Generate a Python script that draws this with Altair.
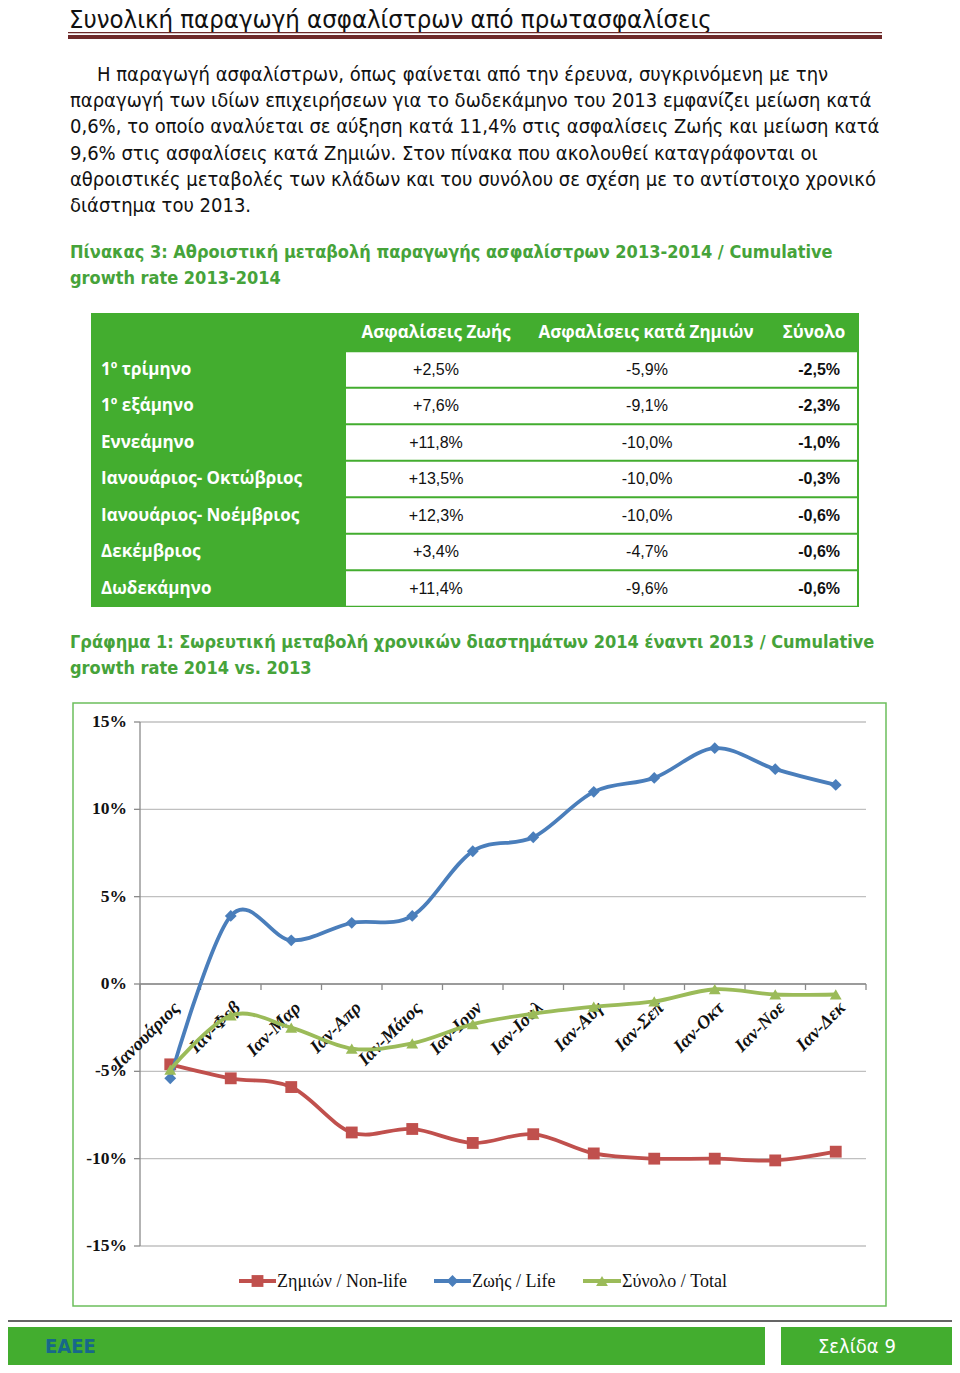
import altair as alt
import pandas as pd

# ---------------- data ----------------
page_title = "Συνολική παραγωγή ασφαλίστρων από πρωτασφαλίσεις"

paragraph_first = "Η παραγωγή ασφαλίστρων, όπως φαίνεται από την έρευνα, συγκρινόμενη με την"
paragraph_rest = [
    "παραγωγή των ιδίων επιχειρήσεων για το δωδεκάμηνο του 2013 εμφανίζει μείωση κατά",
    "0,6%, το οποίο αναλύεται σε αύξηση κατά 11,4% στις ασφαλίσεις Ζωής και μείωση κατά",
    "9,6% στις ασφαλίσεις κατά Ζημιών. Στον πίνακα που ακολουθεί καταγράφονται οι",
    "αθροιστικές μεταβολές των κλάδων και του συνόλου σε σχέση με το αντίστοιχο χρονικό",
    "διάστημα του 2013.",
]

table_caption = [
    "Πίνακας 3: Αθροιστική μεταβολή παραγωγής ασφαλίστρων 2013-2014 / Cumulative",
    "growth rate 2013-2014",
]
chart_caption = [
    "Γράφημα 1: Σωρευτική μεταβολή χρονικών διαστημάτων 2014 έναντι 2013 / Cumulative",
    "growth rate 2014 vs. 2013",
]

table_headers = ["Ασφαλίσεις Ζωής", "Ασφαλίσεις κατά Ζημιών", "Σύνολο"]
table_periods = ["1º τρίμηνο", "1º εξάμηνο", "Εννεάμηνο", "Ιανουάριος- Οκτώβριος",
                 "Ιανουάριος- Νοέμβριος", "Δεκέμβριος", "Δωδεκάμηνο"]
table_life = ["+2,5%", "+7,6%", "+11,8%", "+13,5%", "+12,3%", "+3,4%", "+11,4%"]
table_nonlife = ["-5,9%", "-9,1%", "-10,0%", "-10,0%", "-10,0%", "-4,7%", "-9,6%"]
table_total = ["-2,5%", "-2,3%", "-1,0%", "-0,3%", "-0,6%", "-0,6%", "-0,6%"]

months = ["Ιανουάριος", "Ιαν-Φεβ", "Ιαν-Μαρ", "Ιαν-Απρ", "Ιαν-Μάιος", "Ιαν-Ιουν",
          "Ιαν-Ιουλ", "Ιαν-Αυγ", "Ιαν-Σεπ", "Ιαν-Οκτ", "Ιαν-Νοε", "Ιαν-Δεκ"]
nonlife = [-4.6, -5.4, -5.9, -8.5, -8.3, -9.1, -8.6, -9.7, -10.0, -10.0, -10.1, -9.6]
life = [-5.4, 3.9, 2.5, 3.5, 3.9, 7.6, 8.4, 11.0, 11.8, 13.5, 12.3, 11.4]
total = [-4.9, -1.8, -2.5, -3.7, -3.4, -2.3, -1.7, -1.3, -1.0, -0.3, -0.6, -0.6]

series_names = ["Ζημιών / Non-life", "Ζωής / Life", "Σύνολο / Total"]
series_colors = ["#C0504D", "#4A7EBB", "#9BBB59"]
series_shapes = ["square", "diamond", "triangle-up"]
y_ticks = [15, 10, 5, 0, -5, -10, -15]

footer_left = "ΕΑΕΕ"
footer_right = "Σελίδα 9"

# ---------------- styles ----------------
GREEN = "#43ad2f"
CAP_GREEN = "#46a33a"
MAROON = "#6e2a2a"
NARROW = "Liberation Sans Narrow, DejaVu Sans Condensed, Arial Narrow, sans-serif"
SANS = "Open Sans, DejaVu Sans, sans-serif"
ARIAL = "Liberation Sans, Arial, sans-serif"
SERIF = "Liberation Serif, Times New Roman, serif"


def P(v):
    """page pixel -> chart pixel (page has an 8px margin)"""
    return v - 8


one = alt.Data(values=[{"k": 1}])


def box(x1, x2, y1, y2, **kw):
    return alt.Chart(one).mark_rect(**kw).encode(
        x=alt.value(P(x1)), x2=alt.value(P(x2)), y=alt.value(P(y1)), y2=alt.value(P(y2)))


def label(text, x, y, **kw):
    return alt.Chart(alt.Data(values=[{"t": text}])).mark_text(**kw).encode(
        text="t:N", x=alt.value(P(x)), y=alt.value(P(y)))


layers = []

# ---- page title ----
layers.append(label(page_title, 69, 28, font=NARROW, fontSize=25.5, align="left",
                    baseline="alphabetic", color="#111"))
layers.append(box(68, 882, 32, 33.3, color=MAROON))
layers.append(box(68, 882, 35, 39, color=MAROON))

# ---- paragraph ----
layers.append(label(paragraph_first, 97, 75, font=NARROW, fontSize=20, align="left",
                    baseline="middle", color="#111"))
para_df = pd.DataFrame({"line": paragraph_rest, "i": list(range(len(paragraph_rest)))})
layers.append(alt.Chart(para_df).mark_text(font=NARROW, fontSize=20, align="left",
                                           baseline="middle", color="#111").encode(
    text="line:N", x=alt.value(P(70)),
    y=alt.Y("i:Q", scale=alt.Scale(domain=[0, 4], range=[P(101), P(206)]), axis=None)))

# ---- captions ----
for cap, y0 in [(table_caption, 253), (chart_caption, 643)]:
    cdf = pd.DataFrame({"line": cap, "i": list(range(len(cap)))})
    layers.append(alt.Chart(cdf).mark_text(font=NARROW, fontSize=18, fontWeight="bold",
                                           align="left", baseline="middle",
                                           color=CAP_GREEN).encode(
        text="line:N", x=alt.value(P(70)),
        y=alt.Y("i:Q", scale=alt.Scale(domain=[0, 1], range=[P(y0), P(y0 + 26)]), axis=None)))

# ---- table ----
layers.append(box(91, 859, 313, 607, color=GREEN))
tdf = pd.DataFrame({"period": table_periods, "life": table_life, "nonlife": table_nonlife,
                    "total": table_total, "i": list(range(len(table_periods)))})
row_y = alt.Scale(domain=[0, 6], range=[P(369.5), P(588.5)])
layers.append(alt.Chart(tdf).mark_rect(color="white").transform_calculate(
    lo="datum.i - 0.47", hi="datum.i + 0.47").encode(
    x=alt.value(P(346)), x2=alt.value(P(857)),
    y=alt.Y("lo:Q", scale=row_y, axis=None), y2="hi:Q"))
for htxt, hx in zip(table_headers, [436, 646, 814]):
    layers.append(label(htxt, hx, 333, font=SANS, fontSize=17, fontWeight="bold",
                        color="white", align="center", baseline="middle"))
layers.append(alt.Chart(tdf).mark_text(font=SANS, fontSize=17, fontWeight="bold",
                                       color="white", align="left", baseline="middle").encode(
    text="period:N", x=alt.value(P(101)), y=alt.Y("i:Q", scale=row_y, axis=None)))
layers.append(alt.Chart(tdf).mark_text(font=ARIAL, fontSize=16, color="#111",
                                       align="center", baseline="middle").encode(
    text="life:N", x=alt.value(P(436)), y=alt.Y("i:Q", scale=row_y, axis=None)))
layers.append(alt.Chart(tdf).mark_text(font=ARIAL, fontSize=16, color="#111",
                                       align="center", baseline="middle").encode(
    text="nonlife:N", x=alt.value(P(647)), y=alt.Y("i:Q", scale=row_y, axis=None)))
layers.append(alt.Chart(tdf).mark_text(font=ARIAL, fontSize=16, fontWeight="bold",
                                       color="#111", align="right", baseline="middle").encode(
    text="total:N", x=alt.value(P(840)), y=alt.Y("i:Q", scale=row_y, axis=None)))

# ---- line chart ----
layers.append(box(73, 886, 703, 1306, fill="white", stroke="#6cbf5c", strokeWidth=1.5))

ys = alt.Scale(domain=[-15, 15], range=[P(1246), P(722)], nice=False, zero=False)
xs = alt.Scale(type="point", domain=months, range=[P(140), P(866)], padding=0.5)

tick_df = pd.DataFrame({"v": y_ticks, "lab": [f"{t}%" for t in y_ticks]})
layers.append(alt.Chart(tick_df).mark_rule(color="#c0c0c0", strokeWidth=1.3).encode(
    x=alt.value(P(140)), x2=alt.value(P(866)), y=alt.Y("v:Q", scale=ys, axis=None)))
layers.append(alt.Chart(tick_df).mark_rule(color="#8a8a8a", strokeWidth=1.3).encode(
    x=alt.value(P(134)), x2=alt.value(P(140)), y=alt.Y("v:Q", scale=ys, axis=None)))
layers.append(alt.Chart(one).mark_rule(color="#8a8a8a", strokeWidth=1.3).encode(
    x=alt.value(P(140)), y=alt.value(P(722)), y2=alt.value(P(1246))))
layers.append(alt.Chart(alt.Data(values=[{"v": 0}])).mark_rule(color="#8a8a8a", strokeWidth=1.3).encode(
    x=alt.value(P(140)), x2=alt.value(P(866)), y=alt.Y("v:Q", scale=ys, axis=None)))
xt_df = pd.DataFrame({"k": list(range(len(months) + 1))})
layers.append(alt.Chart(xt_df).mark_rule(color="#8a8a8a", strokeWidth=1.3).encode(
    x=alt.X("k:Q", scale=alt.Scale(domain=[0, len(months)], range=[P(140), P(866)]), axis=None),
    y=alt.value(P(984)), y2=alt.value(P(990))))
layers.append(alt.Chart(tick_df).mark_text(font=SERIF, fontSize=17.5, fontWeight="bold",
                                           align="right", baseline="middle", color="#111").encode(
    text="lab:N", x=alt.value(P(127)), y=alt.Y("v:Q", scale=ys, axis=None)))

mdf = pd.DataFrame({"m": months, "idx": list(range(len(months)))})
layers.append(alt.Chart(mdf).mark_text(font=SERIF, fontSize=18.5, fontWeight="bold",
                                       fontStyle="italic", align="right", baseline="middle",
                                       angle=315, dx=9, color="#111").encode(
    text="m:N", x=alt.X("m:N", scale=xs, axis=None), y=alt.value(P(1011))))

rows = []
for name, vals in zip(series_names, [nonlife, life, total]):
    for i, (m, v) in enumerate(zip(months, vals)):
        rows.append({"series": name, "m": m, "v": v, "idx": i})
ldf = pd.DataFrame(rows)
color = alt.Color("series:N", scale=alt.Scale(domain=series_names, range=series_colors),
                  legend=None)
shape = alt.Shape("series:N", scale=alt.Scale(domain=series_names, range=series_shapes),
                  legend=None)
for name in series_names:
    sub = ldf[ldf.series == name]
    layers.append(alt.Chart(sub).mark_line(interpolate="cardinal", strokeWidth=3.8).encode(
        x=alt.X("m:N", scale=xs, axis=None), y=alt.Y("v:Q", scale=ys, axis=None),
        color=color, order="idx:Q"))
    layers.append(alt.Chart(sub).mark_point(filled=True, size=140, opacity=1).encode(
        x=alt.X("m:N", scale=xs, axis=None), y=alt.Y("v:Q", scale=ys, axis=None),
        color=color, shape=shape))

# ---- legend ----
leg_pos = [(239, 276), (434, 471), (583, 621)]
for name, col, shp, (a, b) in zip(series_names, series_colors, series_shapes, leg_pos):
    layers.append(alt.Chart(one).mark_rule(color=col, strokeWidth=3.8).encode(
        x=alt.value(P(a)), x2=alt.value(P(b)), y=alt.value(P(1281))))
    layers.append(alt.Chart(one).mark_point(filled=True, size=140, opacity=1, color=col,
                                            shape=shp).encode(
        x=alt.value(P((a + b) / 2)), y=alt.value(P(1281))))
    layers.append(label(name, b + 1, 1282, font=SERIF, fontSize=18, align="left",
                        baseline="middle", color="#111"))

# ---- footer ----
layers.append(box(3, 958, 1321, 1371, fill="white", stroke="#333", strokeWidth=1.5))
layers.append(box(7, 765, 1327, 1366, color=GREEN))
layers.append(box(781, 953, 1327, 1366, color=GREEN))
layers.append(label(footer_left, 45, 1347, font=NARROW, fontSize=20, fontWeight="bold",
                    align="left", baseline="middle", color="#17688a"))
layers.append(label(footer_right, 818, 1347, font=NARROW, fontSize=20, align="left",
                    baseline="middle", color="white"))

chart = alt.layer(*layers).resolve_scale(
    x="independent", y="independent", color="independent", shape="independent"
).properties(
    width=944, height=1357, padding=0, background="white",
    autosize=alt.AutoSizeParams(type="none")
).configure_view(stroke=None)

chart.save("out.html", embed_options={"renderer": "svg", "actions": False})
